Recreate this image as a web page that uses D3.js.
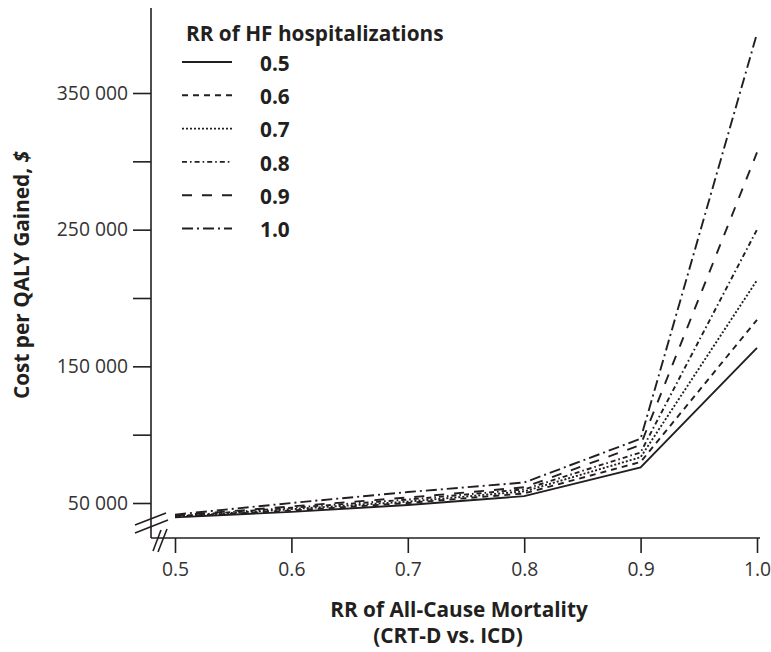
<!DOCTYPE html>
<html>
<head>
<meta charset="utf-8">
<script src="https://cdn.jsdelivr.net/npm/d3@7"></script>
<style>
  html, body { margin: 0; padding: 0; background: #fff; }
  svg { display: block; font-family: "Open Sans", "Noto Sans", sans-serif; }
</style>
</head>
<body>
<svg id="chart" width="771" height="652"></svg>
<script>
// RR of all-cause mortality (CRT-D vs. ICD)
const mortalityRR = [0.5, 0.6, 0.7, 0.8, 0.9, 1.0];
// RR of HF hospitalizations, one curve each
const hospRR = ["0.5", "0.6", "0.7", "0.8", "0.9", "1.0"];
// Cost per QALY gained ($) for each hospitalization RR
const cost05 = [39500, 43500, 48500, 55000, 76000, 163500];
const cost06 = [39800, 44500, 50000, 57000, 80000, 184000];
const cost07 = [40000, 45500, 51000, 58500, 83500, 213000];
const cost08 = [40300, 46500, 52500, 60000, 87000, 250000];
const cost09 = [40800, 47500, 54000, 61500, 92500, 306500];
const cost10 = [41500, 50000, 58000, 65000, 97000, 393500];
const yTicks = [50000, 100000, 150000, 200000, 250000, 300000, 350000];
const yLabelled = [50000, 150000, 250000, 350000];

const seriesValues = [cost05, cost06, cost07, cost08, cost09, cost10];
const dashes = ["none", "6 5", "2 2", "5 3 1.6 3", "10 10", "11 4 2 4"];
const ink = "#231f20";
const titleSize = 20.8;

const svg = d3.select("#chart");

const x = d3.scaleLinear().domain([0.5, 1.0]).range([175, 757]);
const y = d3.scaleLinear().domain([50000, 350000]).range([503, 93]);

const axisX = 151, axisY = 538;

// Axis lines
svg.append("line").attr("x1", axisX).attr("x2", axisX).attr("y1", 8).attr("y2", axisY)
  .attr("stroke", ink).attr("stroke-width", 1.6);
svg.append("line").attr("x1", axisX).attr("x2", 760).attr("y1", axisY).attr("y2", axisY)
  .attr("stroke", ink).attr("stroke-width", 1.6);

// Y axis ticks and labels
const fmt = v => d3.format(",")(v).replace(/,/g, " ");
const gy = svg.append("g").attr("transform", `translate(${axisX},0)`)
  .call(d3.axisLeft(y).tickValues(yTicks).tickSize(18).tickPadding(5)
    .tickFormat(v => yLabelled.includes(v) ? fmt(v) : ""));
gy.select(".domain").remove();
gy.selectAll(".tick line").attr("stroke", ink).attr("stroke-width", 1.6);
gy.selectAll(".tick text").attr("fill", "#333").attr("font-size", 19.3)
  .attr("font-family", "'Open Sans', sans-serif");

// X axis ticks and labels
const gx = svg.append("g").attr("transform", `translate(0,${axisY})`)
  .call(d3.axisBottom(x).tickValues(mortalityRR).tickSize(15).tickPadding(9)
    .tickFormat(d3.format(".1f")));
gx.select(".domain").remove();
gx.selectAll(".tick line").attr("stroke", ink).attr("stroke-width", 1.6);
gx.selectAll(".tick text").attr("fill", "#333").attr("font-size", 19.3)
  .attr("font-family", "'Open Sans', sans-serif");

// Axis break marks
const breaks = [
  [[135, 525], [166, 513]],
  [[135, 533], [168, 520]],
  [[153, 551], [161, 530]],
  [[158, 552], [167, 529]]
];
breaks.forEach(([a, b]) => {
  svg.append("line").attr("x1", a[0]).attr("y1", a[1]).attr("x2", b[0]).attr("y2", b[1])
    .attr("stroke", ink).attr("stroke-width", 1.6);
});

// Curves
const line = d3.line().x((d, i) => x(mortalityRR[i])).y(d => y(d));
seriesValues.forEach((vals, k) => {
  svg.append("path").datum(vals)
    .attr("d", line)
    .attr("fill", "none")
    .attr("stroke", ink)
    .attr("stroke-width", 1.9)
    .attr("stroke-dasharray", dashes[k]);
});

// Legend
const legend = svg.append("g");
legend.append("text").attr("x", 186).attr("y", 41)
  .attr("font-size", titleSize).attr("font-weight", 700).attr("fill", ink)
  .text("RR of HF hospitalizations");
hospRR.forEach((lab, k) => {
  const ly = 62 + k * 33.3;
  legend.append("line").attr("x1", 182).attr("x2", 232).attr("y1", ly).attr("y2", ly)
    .attr("stroke", ink).attr("stroke-width", 1.9).attr("stroke-dasharray", dashes[k]);
  legend.append("text").attr("x", 260).attr("y", ly + 8.8)
    .attr("font-size", titleSize).attr("font-weight", 700).attr("fill", ink)
    .text(lab);
});

// Axis titles
svg.append("text").attr("x", 459).attr("y", 617).attr("text-anchor", "middle")
  .attr("font-size", titleSize).attr("font-weight", 700).attr("fill", ink)
  .text("RR of All-Cause Mortality");
svg.append("text").attr("x", 448).attr("y", 643).attr("text-anchor", "middle")
  .attr("font-size", titleSize).attr("font-weight", 700).attr("fill", ink)
  .text("(CRT-D vs. ICD)");

const yt = svg.append("text").attr("transform", "translate(29,275) rotate(-90)")
  .attr("text-anchor", "middle")
  .attr("font-size", titleSize).attr("font-weight", 700).attr("fill", ink);
yt.append("tspan").text("Cost per QALY Gained, ");
yt.append("tspan").attr("font-style", "italic").text("$");
</script>
</body>
</html>
